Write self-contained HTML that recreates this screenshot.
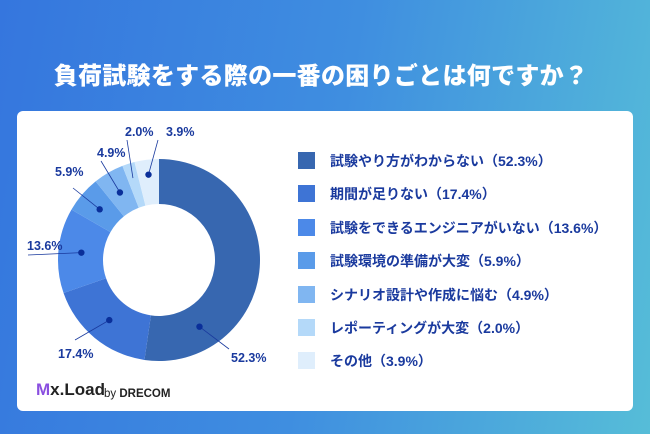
<!DOCTYPE html>
<html><head><meta charset="utf-8"><style>
body{margin:0;width:650px;height:434px;overflow:hidden;font-family:"Liberation Sans","Noto Sans CJK JP",sans-serif;}
#bg{position:absolute;left:0;top:0;width:650px;height:434px;background:linear-gradient(100deg,#3576de 0%,#3f8ee0 50%,#56bdd8 100%);}
#title{position:absolute;left:0;top:56px;width:642px;text-align:center;color:#fff;font-size:24px;font-weight:900;letter-spacing:0.3px;}
#card{position:absolute;left:17px;top:111px;width:616px;height:300px;background:#fff;border-radius:6px;}
.leg{position:absolute;left:298px;height:18px;}
.sw{position:absolute;left:0;top:0;width:17px;height:17px;}
.lt{position:absolute;left:32px;top:-1px;white-space:nowrap;color:#1a3a9e;font-size:14px;font-weight:bold;}
</style></head><body>
<div id="bg"></div>
<div id="title">負荷試験をする際の一番の困りごとは何ですか？</div>
<div id="card"></div>
<svg id="chart" width="650" height="434" style="position:absolute;left:0;top:0"></svg>
<div id="legend"></div>
<div style="position:absolute;left:36px;top:380px;font-size:17px;font-weight:bold;color:#222"><span style="color:#8a4fe0">M</span>x.Load</div>
<div style="position:absolute;left:104px;top:388px;font-size:11.5px;font-weight:bold;color:#222"><span style="font-weight:normal">by</span> DRECOM</div>
<script>
const categories=["試験やり方がわからない","期間が足りない","試験をできるエンジニアがいない","試験環境の準備が大変","シナリオ設計や作成に悩む","レポーティングが大変","その他"];
const values=[52.3,17.4,13.6,5.9,4.9,2.0,3.9];
const valueLabels=["52.3%","17.4%","13.6%","5.9%","4.9%","2.0%","3.9%"];
const colors=["#3767b0","#3e74d5","#4c89e8","#5a9be9","#80b6f1","#b4d9f9","#dfeefc"];
const labelPos=[[231,362],[58,358],[27,250],[55,176],[97,157],[125,136],[166,136]];
const lineEnd=[[229,349],[75,340],[28,255],[73,188],[101,161],[127,140],[158,140]];
const dotFrac=[0.79,0.5,0.5,0.5,0.5,0.5,0.5];
const NS="http://www.w3.org/2000/svg";
const svg=document.getElementById('chart');
const cx=159,cy=260,R=101,r=56;
const total=values.reduce((a,b)=>a+b,0);
function pt(a,rad){return [cx+rad*Math.sin(a),cy-rad*Math.cos(a)];}
let acc=0;
values.forEach((v,i)=>{
 const a0=acc/total*2*Math.PI;acc+=v;const a1=acc/total*2*Math.PI;
 const lg=(a1-a0)>Math.PI?1:0;
 const p0=pt(a0,R),p1=pt(a1,R),q1=pt(a1,r),q0=pt(a0,r);
 const p=document.createElementNS(NS,'path');
 p.setAttribute('d',`M${p0[0]},${p0[1]}A${R},${R} 0 ${lg} 1 ${p1[0]},${p1[1]}L${q1[0]},${q1[1]}A${r},${r} 0 ${lg} 0 ${q0[0]},${q0[1]}Z`);
 p.setAttribute('fill',colors[i]);
 
 
 svg.appendChild(p);
 const am=a0+(a1-a0)*dotFrac[i];const d=pt(am,i>=5?86:78);
 const lp=labelPos[i],le=lineEnd[i];
 const ln=document.createElementNS(NS,'line');
 ln.setAttribute('x1',d[0]);ln.setAttribute('y1',d[1]);
 ln.setAttribute('x2',le[0]);ln.setAttribute('y2',le[1]);
 ln.setAttribute('stroke','#1a3a9e');ln.setAttribute('stroke-width','0.8');
 
 
 svg.appendChild(ln);
 if(i!=5){const c=document.createElementNS(NS,'circle');
 c.setAttribute('cx',d[0]);c.setAttribute('cy',d[1]);c.setAttribute('r',3.2);c.setAttribute('fill','#0a2f9a');
 
 
 svg.appendChild(c);}
 const t=document.createElementNS(NS,'text');
 t.setAttribute('x',lp[0]);t.setAttribute('y',lp[1]);
 t.setAttribute('font-size','12.5');t.setAttribute('font-weight','bold');t.setAttribute('fill','#1a3a9e');
 t.textContent=valueLabels[i];
 
 
 svg.appendChild(t);
});
const leg=document.getElementById('legend');
categories.forEach((c,i)=>{
 const row=document.createElement('div');row.className='leg';row.style.top=(152+i*33.4)+'px';
 
 
 const sw=document.createElement('div');sw.className='sw';sw.style.background=colors[i];
 
 
 const tx=document.createElement('div');tx.className='lt';tx.textContent=c+'（'+valueLabels[i]+'）';
 
 
 row.appendChild(sw);row.appendChild(tx);leg.appendChild(row);
});
</script>
</body></html>
